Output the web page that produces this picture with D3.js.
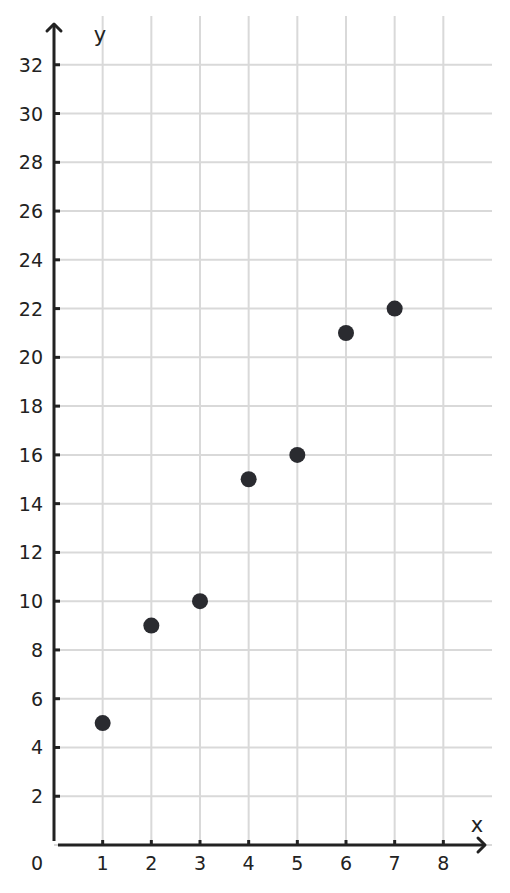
<!DOCTYPE html>
<html>
<head>
<meta charset="utf-8">
<script src="https://cdn.jsdelivr.net/npm/d3@7"></script>
<style>
  body { margin: 0; background: #fff; }
  text { font-family: "DejaVu Sans", sans-serif; fill: #222; }
</style>
</head>
<body>
<script>
// data
var xs = [1, 2, 3, 4, 5, 6, 7];
var ys = [5, 9, 10, 15, 16, 21, 22];
var xTicks = [1, 2, 3, 4, 5, 6, 7, 8];
var yTicks = [2, 4, 6, 8, 10, 12, 14, 16, 18, 20, 22, 24, 26, 28, 30, 32];

var W = 510, H = 893;
var svg = d3.select("body").append("svg")
    .attr("width", W).attr("height", H);

var x = d3.scaleLinear().domain([0, 9]).range([54, 492]);
var y = d3.scaleLinear().domain([0, 34]).range([845, 16]);

// grid
var grid = svg.append("g").attr("stroke", "#d9d9d9").attr("stroke-width", 2);
grid.selectAll("line.v").data(d3.range(1, 9)).enter().append("line")
    .attr("x1", d => x(d)).attr("x2", d => x(d))
    .attr("y1", y(34)).attr("y2", y(0));
grid.selectAll("line.h").data(d3.range(0, 34, 2)).enter().append("line")
    .attr("x1", x(0)).attr("x2", x(9))
    .attr("y1", d => y(d)).attr("y2", d => y(d));

// axes
var ax = svg.append("g").attr("stroke", "#222").attr("stroke-width", 3).attr("fill", "none");
ax.append("line").attr("x1", x(0)).attr("x2", x(0)).attr("y1", y(0) - 4).attr("y2", 24);
ax.append("path").attr("d", "M" + (x(0) - 7) + ",31 L" + x(0) + ",24 L" + (x(0) + 7) + ",31")
    .attr("stroke-linecap", "round").attr("stroke-linejoin", "round");
ax.append("line").attr("x1", x(0) + 4).attr("x2", 485).attr("y1", y(0)).attr("y2", y(0));
ax.append("path").attr("d", "M478," + (y(0) - 7) + " L485," + y(0) + " L478," + (y(0) + 7))
    .attr("stroke-linecap", "round").attr("stroke-linejoin", "round");

// ticks
ax.selectAll("line.yt").data(yTicks).enter().append("line")
    .attr("x1", x(0)).attr("x2", x(0) + 6)
    .attr("y1", d => y(d)).attr("y2", d => y(d));
ax.selectAll("line.xt").data(xTicks).enter().append("line")
    .attr("x1", d => x(d)).attr("x2", d => x(d))
    .attr("y1", y(0)).attr("y2", y(0) - 5);

// tick labels
svg.selectAll("text.yl").data(yTicks).enter().append("text")
    .attr("x", 43).attr("y", d => y(d) + 7)
    .attr("text-anchor", "end").attr("font-size", 19)
    .text(d => d);
svg.selectAll("text.xl").data(xTicks).enter().append("text")
    .attr("x", d => x(d)).attr("y", 870)
    .attr("text-anchor", "middle").attr("font-size", 19)
    .text(d => d);
svg.append("text").attr("x", 37).attr("y", 870)
    .attr("text-anchor", "middle").attr("font-size", 19).text("0");

// axis names
svg.append("text").attr("x", 100).attr("y", 42)
    .attr("text-anchor", "middle").attr("font-size", 21).text("y");
svg.append("text").attr("x", 477).attr("y", 832)
    .attr("text-anchor", "middle").attr("font-size", 21).text("x");

// points
svg.selectAll("circle").data(xs).enter().append("circle")
    .attr("cx", d => x(d)).attr("cy", (d, i) => y(ys[i]))
    .attr("r", 8).attr("fill", "#2a2b30");
</script>
</body>
</html>
